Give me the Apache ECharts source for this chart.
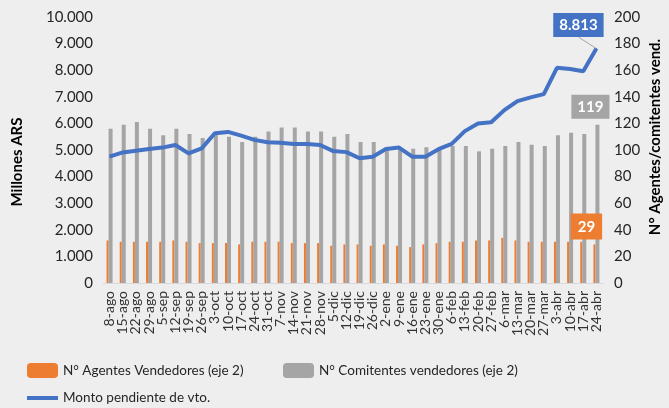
<!DOCTYPE html>
<html>
<head>
<meta charset="utf-8">
<script src="https://cdn.jsdelivr.net/npm/echarts@6/dist/echarts.min.js"></script>
<style>
  html, body { margin: 0; padding: 0; background: #eeeeee; }
  #chart { width: 669px; height: 408px; }
</style>
</head>
<body>
<div id="chart"></div>
<script>
// fechas (semanal)
const fechas = ['8-ago','15-ago','22-ago','29-ago','5-sep','12-sep','19-sep','26-sep','3-oct','10-oct',
  '17-oct','24-oct','31-oct','7-nov','14-nov','21-nov','28-nov','5-dic','12-dic','19-dic',
  '26-dic','2-ene','9-ene','16-ene','23-ene','30-ene','6-feb','13-feb','20-feb','27-feb',
  '6-mar','13-mar','20-mar','27-mar','3-abr','10-abr','17-abr','24-abr']

// N° agentes vendedores (eje 2)
const agentes = [32,31,31,31,31,32,31,30,30,30,29,31,31,31,30,30,30,28,29,29,
  28,29,28,27,29,30,31,31,32,32,34,32,31,31,31,31,31,29]

// N° comitentes vendedores (eje 2)
const comitentes = [116,119,121,116,111,116,112,109,113,110,106,110,114,117,117,114,114,110,112,106,
  106,102,102,101,102,101,103,103,99,101,103,106,104,103,111,113,112,119]

// monto pendiente de vto. (millones ARS)
const montos = [4750,4910,4975,5040,5090,5190,4875,5060,5630,5680,5540,5380,5290,5275,5225,5225,5190,4960,4920,4690,
  4750,5040,5090,4750,4750,5030,5230,5710,6000,6040,6500,6840,6980,7100,8090,8045,7960,8813]

const FONT = 'Lato, "Noto Sans", sans-serif'
const last = fechas.length - 1

const fmtMiles = v => String(v).replace(/\B(?=(\d{3})+(?!\d))/g, '.')

// solo el ultimo punto lleva etiqueta
const conEtiqueta = (arr, label) => arr.map((v, i) => i === last ? { value: v, label: label } : v)

const chart = echarts.init(document.getElementById('chart'))

const legendText = { fontSize: 13.5, color: '#262626', fontFamily: FONT }

const option = {
  backgroundColor: '#eeeeee',
  textStyle: { fontFamily: FONT },
  animation: false,
  grid: { left: 103, right: 66, top: 17, bottom: 125 },
  legend: [
    {
      data: ['N° Agentes Vendedores (eje 2)'],
      left: 27, top: 363, padding: 0, itemWidth: 31, itemHeight: 15,
      textStyle: legendText
    },
    {
      data: ['N° Comitentes vendedores (eje 2)'],
      left: 283, top: 363, padding: 0, itemWidth: 31, itemHeight: 15,
      textStyle: legendText
    },
    {
      data: [{ name: 'Monto pendiente de vto.', icon: 'rect' }],
      left: 27, top: 391, padding: 0, itemWidth: 31, itemHeight: 4,
      textStyle: legendText
    }
  ],
  xAxis: {
    type: 'category',
    data: fechas,
    axisLine: { lineStyle: { color: '#d9d9d9' } },
    axisTick: { alignWithLabel: true, length: 4, lineStyle: { color: '#d9d9d9' } },
    axisLabel: { rotate: 90, interval: 0, fontSize: 14, color: '#333', margin: 8, fontFamily: FONT }
  },
  yAxis: [
    {
      type: 'value', min: 0, max: 10000, interval: 1000,
      splitLine: { show: false },
      axisLine: { show: false },
      axisLabel: { fontSize: 15, color: '#262626', margin: 10, formatter: fmtMiles, fontFamily: FONT }
    },
    {
      type: 'value', min: 0, max: 200, interval: 20,
      splitLine: { show: false },
      axisLine: { show: false },
      axisLabel: { fontSize: 15, color: '#262626', margin: 11, fontFamily: FONT }
    }
  ],
  series: [
    {
      name: 'N° Agentes Vendedores (eje 2)',
      type: 'bar',
      yAxisIndex: 1,
      barWidth: 2,
      barGap: '0%',
      itemStyle: { color: '#ED7D31' },
      data: conEtiqueta(agentes, {
        show: true, position: 'top', distance: 5, offset: [-8, 0],
        backgroundColor: '#ED7D31', color: '#fff', fontWeight: 'bold', fontSize: 15,
        padding: [6, 7, 5, 7], fontFamily: FONT
      })
    },
    {
      name: 'N° Comitentes vendedores (eje 2)',
      type: 'bar',
      yAxisIndex: 1,
      barWidth: 4,
      itemStyle: { color: '#A5A5A5' },
      data: conEtiqueta(comitentes, {
        show: true, position: 'top', distance: 6, offset: [-7, 0],
        backgroundColor: '#A5A5A5', color: '#fff', fontWeight: 'bold', fontSize: 15,
        padding: [5, 6, 4, 6], fontFamily: FONT
      })
    },
    {
      name: 'Monto pendiente de vto.',
      type: 'line',
      yAxisIndex: 0,
      symbol: 'circle',
      symbolSize: 1,
      showSymbol: true,
      lineStyle: { color: '#4472C4', width: 4 },
      itemStyle: { color: '#4472C4' },
      labelLayout: { dx: -18, dy: -6 },
      labelLine: { show: true, lineStyle: { color: '#a5a5a5', width: 1 } },
      data: conEtiqueta(montos, {
        show: true, position: 'top', distance: 5,
        formatter: p => fmtMiles(p.value),
        backgroundColor: '#4472C4', color: '#fff', fontWeight: 'bold', fontSize: 15,
        padding: [5, 6, 4, 6], fontFamily: FONT
      })
    }
  ],
  graphic: [
    {
      type: 'text', x: 17, y: 162, rotation: Math.PI / 2,
      style: { text: 'Millones ARS', font: 'bold 15px ' + FONT, fill: '#000', align: 'center', verticalAlign: 'middle' }
    },
    {
      type: 'text', x: 655, y: 137, rotation: Math.PI / 2,
      style: { text: 'N° Agentes/comitentes vend.', font: 'bold 15px ' + FONT, fill: '#000', align: 'center', verticalAlign: 'middle' }
    }
  ]
}

chart.setOption(option)
</script>
</body>
</html>
